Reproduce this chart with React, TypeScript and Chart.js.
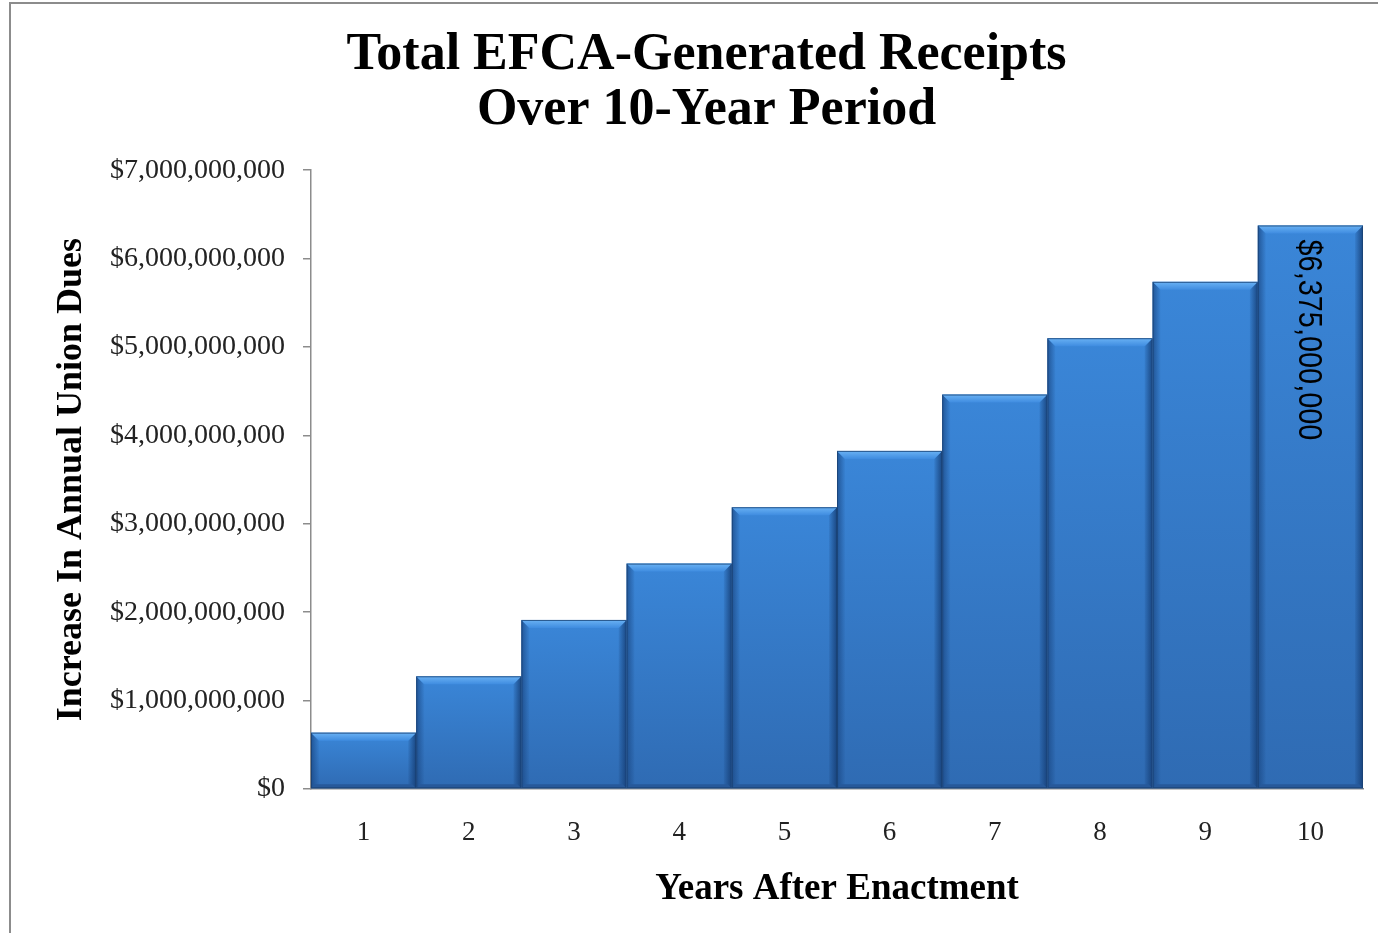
import React, { useEffect, useRef } from "react";
import { Chart, registerables } from "chart.js";

Chart.register(...registerables);

const years = ["1", "2", "3", "4", "5", "6", "7", "8", "9", "10"];
const receipts = [
  637500000, 1275000000, 1912500000, 2550000000, 3187500000,
  3825000000, 4462500000, 5100000000, 5737500000, 6375000000,
];
const titleLines = ["Total EFCA-Generated Receipts", "Over 10-Year Period"];
const yTitle = "Increase In Annual Union Dues";
const xTitle = "Years After Enactment";
const labelText = "$6,375,000,000";

const fmt = (v: number) => "$" + Math.round(v).toLocaleString("en-US");

const bevelPlugin = {
  id: "bevel",
  afterDatasetsDraw(chart: any) {
    const ctx = chart.ctx;
    const meta = chart.getDatasetMeta(0);
    meta.data.forEach((bar: any) => {
      const { x, y, base, width } = bar.getProps(["x", "y", "base", "width"], true);
      const l = x - width / 2;
      const r = x + width / 2;
      const t = y;
      const b = base;
      const s = 8;
      ctx.save();
      // face
      const g = ctx.createLinearGradient(0, t, 0, b);
      g.addColorStop(0, "#3a86d8");
      g.addColorStop(1, "#2f6bb3");
      ctx.fillStyle = g;
      ctx.fillRect(l, t, r - l, b - t);
      // left bevel
      const gl = ctx.createLinearGradient(l, 0, l + s, 0);
      gl.addColorStop(0, "rgba(25,70,130,0.75)");
      gl.addColorStop(1, "rgba(25,70,130,0.05)");
      ctx.fillStyle = gl;
      ctx.beginPath();
      ctx.moveTo(l, t); ctx.lineTo(l + s, t + s); ctx.lineTo(l + s, b - 4); ctx.lineTo(l, b); ctx.closePath();
      ctx.fill();
      // right bevel
      const gr = ctx.createLinearGradient(r, 0, r - s, 0);
      gr.addColorStop(0, "rgba(20,60,115,0.85)");
      gr.addColorStop(1, "rgba(20,60,115,0.1)");
      ctx.fillStyle = gr;
      ctx.beginPath();
      ctx.moveTo(r, t); ctx.lineTo(r - s, t + s); ctx.lineTo(r - s, b - 4); ctx.lineTo(r, b); ctx.closePath();
      ctx.fill();
      // top bevel
      const gt = ctx.createLinearGradient(0, t, 0, t + s);
      gt.addColorStop(0, "#6ab2f4");
      gt.addColorStop(1, "#3f8ce0");
      ctx.fillStyle = gt;
      ctx.beginPath();
      ctx.moveTo(l, t); ctx.lineTo(r, t); ctx.lineTo(r - s, t + s); ctx.lineTo(l + s, t + s); ctx.closePath();
      ctx.fill();
      // bottom bevel
      ctx.fillStyle = "#27599a";
      ctx.beginPath();
      ctx.moveTo(l, b); ctx.lineTo(l + 4, b - 4); ctx.lineTo(r - 4, b - 4); ctx.lineTo(r, b); ctx.closePath();
      ctx.fill();
      // outline
      ctx.strokeStyle = "rgba(25,65,115,0.8)";
      ctx.lineWidth = 1;
      ctx.strokeRect(l + 0.5, t + 0.5, r - l - 1, b - t - 1);
      ctx.restore();
    });
    // data label on last bar
    const last = meta.data[meta.data.length - 1];
    if (last) {
      ctx.save();
      ctx.translate(last.x - 2, last.y + 14);
      ctx.rotate(Math.PI / 2);
      ctx.scale(0.85, 1);
      ctx.fillStyle = "#000";
      ctx.font = "34px 'Liberation Sans Narrow', 'Liberation Sans', sans-serif";
      ctx.textAlign = "left";
      ctx.textBaseline = "middle";
      ctx.fillText(labelText, 0, 0);
      ctx.restore();
    }
  },
};

export default function App() {
  const ref = useRef<HTMLCanvasElement | null>(null);
  useEffect(() => {
    if (!ref.current) return;
    const chart = new Chart(ref.current, {
      type: "bar",
      data: {
        labels: years,
        datasets: [
          {
            data: receipts,
            backgroundColor: "rgba(0,0,0,0)",
            borderWidth: 0,
            barPercentage: 1,
            categoryPercentage: 1,
          },
        ],
      },
      options: {
        responsive: false,
        animation: false,
        layout: { padding: { left: 50, right: 15, top: 28, bottom: 0 } },
        plugins: {
          legend: { display: false },
          tooltip: { enabled: false },
          title: {
            display: true,
            text: titleLines,
            color: "#000",
            font: { family: "'Liberation Serif', serif", size: 52, weight: "bold", lineHeight: 1.06 },
            padding: { top: 0, bottom: 32 },
          },
        },
        scales: {
          x: {
            grid: { display: false, drawTicks: false },
            border: { display: true, color: "#8c8c8c", width: 1.5 },
            ticks: {
              color: "#222",
              padding: 28,
              font: { family: "'Liberation Serif', serif", size: 27 },
            },
            title: {
              display: true,
              text: xTitle,
              color: "#000",
              font: { family: "'Liberation Serif', serif", size: 37, weight: "bold" },
              padding: { top: 20, bottom: 21 },
            },
            afterFit: (s: any) => { s.height = 144; },
          },
          y: {
            min: 0,
            max: 7000000000,
            grid: { display: true, drawOnChartArea: false, drawTicks: true, tickLength: 8, color: "#8c8c8c", lineWidth: 1.5 },
            border: { display: true, color: "#8c8c8c", width: 1.5 },
            ticks: {
              stepSize: 1000000000,
              color: "#222",
              padding: 18,
              font: { family: "'Liberation Serif', serif", size: 28 },
              callback: (v: any) => fmt(Number(v)),
            },
            title: {
              display: true,
              text: yTitle,
              color: "#000",
              font: { family: "'Liberation Serif', serif", size: 36, weight: "bold" },
              padding: { top: 0, bottom: 10 },
            },
            afterFit: (s: any) => { s.width = 261; },
          },
        },
      },
      plugins: [bevelPlugin],
    });
    return () => chart.destroy();
  }, []);

  return (
    <div
      style={{
        position: "absolute",
        left: 0,
        top: 0,
        width: 1378,
        height: 933,
        overflow: "hidden",
        background: "#fff",
      }}
    >
      <canvas ref={ref} width={1378} height={933} style={{ position: "absolute", left: 0, top: 0 }} />
      <div
        style={{
          position: "absolute",
          left: 9,
          top: 2,
          width: 1400,
          height: 1000,
          border: "2px solid #8c8c8c",
          pointerEvents: "none",
        }}
      />
    </div>
  );
}
